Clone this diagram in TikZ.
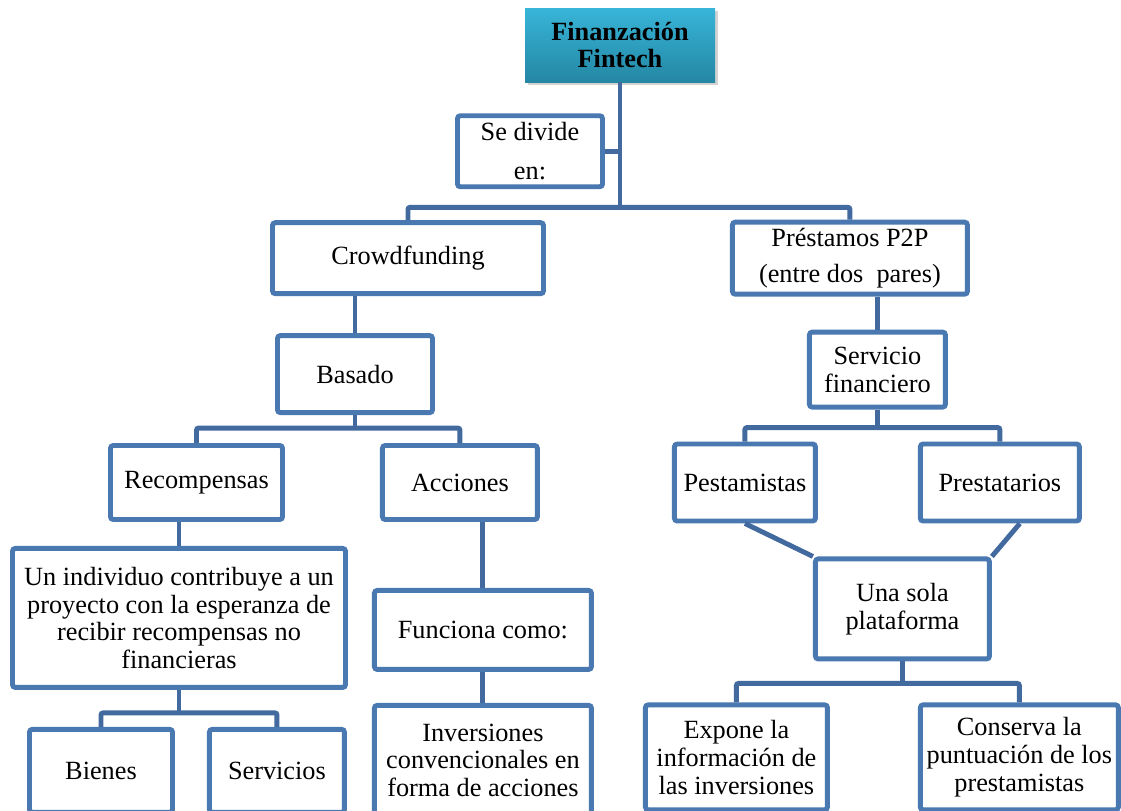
\documentclass[tikz,border=0pt]{standalone}
\usepackage{fontspec}
\setmainfont{Liberation Serif}
\usepackage{xcolor}
\usetikzlibrary{positioning,shadows}

\definecolor{boxblue}{RGB}{74,120,176}
\definecolor{linkblue}{RGB}{66,106,158}
\definecolor{tealtop}{RGB}{56,181,216}
\definecolor{tealbot}{RGB}{36,135,164}

\begin{document}
\begin{tikzpicture}[
        font=\fontsize{18.7}{19.8}\selectfont,
        block/.style={draw=boxblue, line width=3.5pt, rounded corners=2pt, fill=white, align=center, inner sep=2pt},
        topblock/.style={top color=tealtop, bottom color=tealbot, align=center, font=\fontsize{18.7}{19.8}\selectfont\bfseries,
            drop shadow={opacity=0.35, shadow xshift=2pt, shadow yshift=-2pt}},
        line/.style={draw=linkblue, line width=3.5pt, rounded corners=1.5pt}
    ]
    \useasboundingbox (0,0) rectangle (28.025,-20.25);

    % RAIZ
    \node[topblock, minimum width=4.75cm, minimum height=1.85cm] (fintech) at (15.5,-1.125) {Finanzación\\ Fintech};
    \node[block, minimum width=3.625cm, minimum height=1.775cm, below=0.775cm of fintech, xshift=-2.25cm] (divide) {Se divide\\[0.28cm] en:};

    % CROWDFUNDING
    \node[block, minimum width=6.775cm, minimum height=1.775cm, below=0.775cm of divide, xshift=-3.05cm] (crowd) {Crowdfunding};
    \node[block, minimum width=3.875cm, minimum height=1.925cm, below=0.925cm of crowd, xshift=-1.325cm] (basado) {Basado};
    \node[block, minimum width=4.3cm, minimum height=1.85cm, below=0.7cm of basado, xshift=-3.9625cm] (recomp) {Recompensas};
    \node[block, minimum width=3.875cm, minimum height=1.85cm, right=2.375cm of recomp] (acciones) {Acciones};
    \node[block, minimum width=8.325cm, minimum height=3.475cm, below=0.6cm of recomp, xshift=-0.4375cm] (individuo) {Un individuo contribuye a un\\ proyecto con la esperanza de\\ recibir recompensas no\\ financieras};
    \node[block, minimum width=5.425cm, minimum height=1.975cm, below=1.65cm of acciones, xshift=0.575cm] (funciona) {Funciona como:};
    \node[block, minimum width=5.425cm, minimum height=2.75cm, below=0.775cm of funciona] (inversiones) {Inversiones\\ convencionales en\\ forma de acciones};
    \node[block, minimum width=3.575cm, minimum height=2.075cm, below=0.925cm of individuo, xshift=-1.95cm] (bienes) {Bienes};
    \node[block, minimum width=3.375cm, minimum height=2.075cm, right=0.8cm of bienes] (servicios) {Servicios};

    % PRESTAMOS P2P
    \node[block, minimum width=5.875cm, minimum height=1.8cm, right=4.6cm of crowd] (p2p) {Préstamos P2P\\[0.2cm] (entre dos\ \ pares)};
    \node[block, minimum width=3.4cm, minimum height=1.875cm, below=0.825cm of p2p, xshift=0.6875cm] (servicio) {Servicio\\ financiero};
    \node[block, minimum width=3.525cm, minimum height=1.925cm, below=0.8cm of servicio, xshift=-3.3125cm] (pestamistas) {Pestamistas};
    \node[block, minimum width=3.975cm, minimum height=1.925cm, right=2.5cm of pestamistas] (prestatarios) {Prestatarios};
    \node[block, minimum width=4.35cm, minimum height=2.5cm, below=0.825cm of pestamistas, xshift=3.9375cm] (plataforma) {Una sola\\ plataforma};
    \node[block, minimum width=4.55cm, minimum height=2.625cm, below=1.025cm of plataforma, xshift=-4.15cm] (expone) {Expone la\\ información de\\ las inversiones};
    \node[block, minimum width=4.95cm, minimum height=2.625cm, right=2.2cm of expone] (conserva) {Conserva la\\ puntuación de los\\ prestamistas};

    % CONEXIONES
    \draw[line] (fintech.south) -- ++(0,-3.125) coordinate (split);
    \draw[line] (divide.east) -- (divide.east -| fintech.south);
    \draw[line] (crowd.north) |- (split) -| (p2p.north);

    % Crowdfunding
    \draw[line] (crowd.south -| basado.north) -- (basado.north);
    \draw[line] (basado.south) -- ++(0,-0.325) coordinate (splitb);
    \draw[line] (recomp.north) |- (splitb) -| (acciones.north);
    \draw[line] (recomp.south -| individuo.north) -- (individuo.north);
    \draw[line] (acciones.south -| funciona.north) -- (funciona.north);
    \draw[line] (funciona.south) -- (inversiones.north);
    \draw[line] (individuo.south) -- ++(0,-0.575) coordinate (splitr);
    \draw[line] (bienes.north) |- (splitr) -| (servicios.north);

    % Prestamos
    \draw[line] (p2p.south -| servicio.north) -- (servicio.north);
    \draw[line] (servicio.south) -- ++(0,-0.45) coordinate (splits);
    \draw[line] (pestamistas.north) |- (splits) -| (prestatarios.north);
    \draw[line] (pestamistas.south) -- (plataforma.north west);
    \draw[line] ([xshift=0.5cm]prestatarios.south) -- (plataforma.north east);
    \draw[line] (plataforma.south) -- ++(0,-0.55) coordinate (splitp);
    \draw[line] (expone.north) |- (splitp) -| (conserva.north);

\end{tikzpicture}
\end{document}
